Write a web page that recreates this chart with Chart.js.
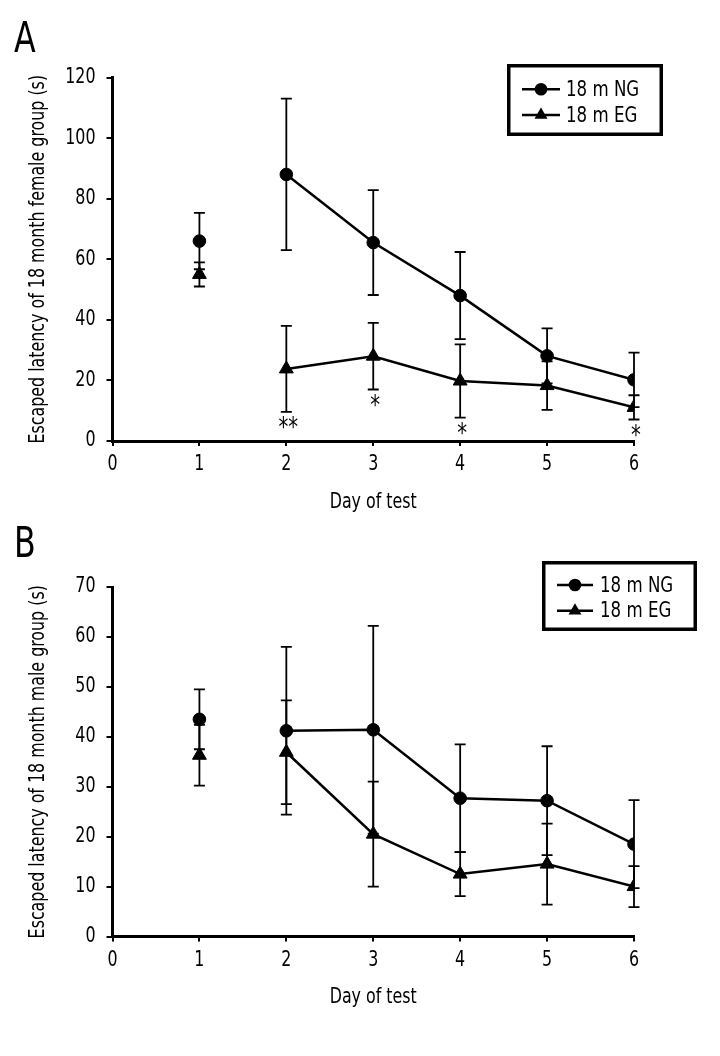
<!DOCTYPE html>
<html><head><meta charset="utf-8">
<script src="https://cdn.jsdelivr.net/npm/chart.js@4.4.0/dist/chart.umd.min.js"></script>
<style>
html,body{margin:0;padding:0;background:#fff;}
body{width:720px;height:1056px;position:relative;overflow:hidden;font-family:"Liberation Sans Narrow","DejaVu Sans Condensed",sans-serif;}
canvas{position:absolute;left:0;}
.lbl{position:absolute;font-size:43px;line-height:43px;color:#000;transform:scaleX(0.82);transform-origin:0 0;}
</style></head><body>
<canvas id="cA" width="720" height="520" style="top:0"></canvas>
<canvas id="cB" width="720" height="536" style="top:520px"></canvas>
<div class="lbl" style="left:14px;top:16px">A</div>
<div class="lbl" style="left:14px;top:521px">B</div>
<script>
// ---- data ----
const days = [1, 2, 3, 4, 5, 6];
const seriesNames = ['18 m NG', '18 m EG'];
const xTitle = 'Day of test';

const titleA = 'Escaped latency of 18 month female group (s)';
const ngMeanA = [66, 88, 65.5, 48, 28.1, 20.2];
const ngErrA  = [9.3, 25, 17.3, 14.4, 9.1, 9];
const egMeanA = [55, 23.8, 28, 19.8, 18.3, 11.1];
const egErrA  = [4, 14.2, 11, 12.1, 8, 4];
const sigA    = ['', '**', '*', '*', '', '*'];

const titleB = 'Escaped latency of 18 month male group (s)';
const ngMeanB = [43.5, 41.2, 41.4, 27.7, 27.2, 18.5];
const ngErrB  = [6, 16.8, 20.8, 10.8, 10.9, 8.8];
const egMeanB = [36.3, 36.9, 20.5, 12.5, 14.5, 10];
const egErrB  = [6.1, 10.4, 10.5, 4.4, 8.1, 4.1];
const sigB    = ['', '', '', '', '', ''];

// Emulate a condensed typeface: narrow every canvas text run horizontally.
const SX = 0.84;
(function () {
  const P = CanvasRenderingContext2D.prototype;
  const fill = P.fillText, meas = P.measureText;
  P.fillText = function (t, x, y, maxW) {
    this.save();
    this.translate(x, y);
    this.scale(SX, 1);
    if (maxW !== undefined) fill.call(this, t, 0, 0, maxW / SX); else fill.call(this, t, 0, 0);
    this.restore();
  };
  P.measureText = function (t) {
    const m = meas.call(this, t);
    return {
      width: m.width * SX,
      actualBoundingBoxAscent: m.actualBoundingBoxAscent,
      actualBoundingBoxDescent: m.actualBoundingBoxDescent,
      actualBoundingBoxLeft: m.actualBoundingBoxLeft * SX,
      actualBoundingBoxRight: m.actualBoundingBoxRight * SX,
      fontBoundingBoxAscent: m.fontBoundingBoxAscent,
      fontBoundingBoxDescent: m.fontBoundingBoxDescent
    };
  };
})();

const FONT = '"Liberation Sans Narrow","DejaVu Sans Condensed",sans-serif';
Chart.defaults.font.family = FONT;
Chart.defaults.color = '#000';

const errorBars = {
  id: 'errorBars',
  beforeDatasetsDraw(chart) {
    const o = chart.options.plugins.errorBars;
    const {ctx, scales: {x, y}} = chart;
    ctx.save();
    ctx.strokeStyle = '#000';
    ctx.lineWidth = 1.8;
    chart.data.datasets.forEach((ds, i) => {
      ds.data.forEach((p, j) => {
        const e = o.errs[i][j];
        const px = x.getPixelForValue(p.x);
        const top = y.getPixelForValue(p.y + e);
        const bot = y.getPixelForValue(p.y - e);
        ctx.beginPath();
        ctx.moveTo(px, top); ctx.lineTo(px, bot);
        ctx.moveTo(px - 5.5, top); ctx.lineTo(px + 5.5, top);
        ctx.moveTo(px - 5.5, bot); ctx.lineTo(px + 5.5, bot);
        ctx.stroke();
      });
    });
    ctx.restore();
  }
};

const sigMarks = {
  id: 'sigMarks',
  afterDatasetsDraw(chart) {
    const o = chart.options.plugins.sigMarks;
    const {ctx, scales: {x, y}} = chart;
    const ds = chart.data.datasets[1];
    ctx.save();
    ctx.fillStyle = '#000';
    ctx.font = '26px ' + FONT;
    ctx.textAlign = 'center';
    ctx.textBaseline = 'alphabetic';
    ds.data.forEach((p, j) => {
      const s = o.labels[j];
      if (!s) return;
      const px = x.getPixelForValue(p.x);
      const cy = y.getPixelForValue(p.y - o.errs[j]) + 11;
      const m = ctx.measureText(s);
      ctx.fillText(s, px + 2, cy + (m.actualBoundingBoxAscent - m.actualBoundingBoxDescent) / 2);
    });
    ctx.restore();
  }
};

const boxLegend = {
  id: 'boxLegend',
  afterDraw(chart) {
    const o = chart.options.plugins.boxLegend;
    const ctx = chart.ctx;
    const [l, t, r, b] = o.box;
    ctx.save();
    ctx.strokeStyle = '#000';
    ctx.fillStyle = '#000';
    ctx.lineWidth = 3.5;
    ctx.strokeRect(l + 1.75, t + 1.75, r - l - 3.5, b - t - 3.5);
    chart.data.datasets.forEach((ds, i) => {
      const cy = o.rows[i];
      ctx.lineWidth = 2.5;
      ctx.beginPath();
      ctx.moveTo(o.lineX[0], cy); ctx.lineTo(o.lineX[1], cy);
      ctx.stroke();
      const mx = (o.lineX[0] + o.lineX[1]) / 2;
      ctx.beginPath();
      if (ds.pointStyle === 'circle') {
        ctx.arc(mx, cy, 6.3, 0, Math.PI * 2);
      } else {
        const rr = 7.5;
        ctx.moveTo(mx, cy - rr);
        ctx.lineTo(mx + rr * 0.866, cy + rr * 0.5);
        ctx.lineTo(mx - rr * 0.866, cy + rr * 0.5);
        ctx.closePath();
      }
      ctx.fill();
      ctx.font = '22px ' + FONT;
      ctx.textBaseline = 'middle';
      ctx.textAlign = 'left';
      ctx.fillText(ds.label, o.textX, cy + 1);
    });
    ctx.restore();
  }
};

function makeChart(id, cfg) {
  const pts = (m) => days.map((d, i) => ({x: d, y: m[i]}));
  const seg = {borderColor: c => c.p0DataIndex === 0 ? 'rgba(0,0,0,0)' : '#000'};
  return new Chart(document.getElementById(id), {
    type: 'scatter',
    data: {
      datasets: [
        {label: seriesNames[0], data: pts(cfg.ng), showLine: true, borderColor: '#000', borderWidth: 2.5,
         pointStyle: 'circle', pointRadius: 6.3, pointBackgroundColor: '#000', pointBorderColor: '#000', pointBorderWidth: 1, segment: seg},
        {label: seriesNames[1], data: pts(cfg.eg), showLine: true, borderColor: '#000', borderWidth: 2.5,
         pointStyle: 'triangle', pointRadius: 8, pointBackgroundColor: '#000', pointBorderColor: '#000', pointBorderWidth: 1, segment: seg}
      ]
    },
    options: {
      responsive: false,
      animation: false,
      layout: {padding: cfg.padding},
      plugins: {
        legend: {display: false},
        tooltip: {enabled: false},
        errorBars: {errs: [cfg.ngErr, cfg.egErr]},
        sigMarks: {labels: cfg.sig, errs: cfg.egErr},
        boxLegend: cfg.legend
      },
      scales: {
        x: {
          type: 'linear', min: 0, max: 6,
          afterFit: s => { s.height = 79; },
          ticks: {stepSize: 1, padding: 6, font: {size: 21}, color: '#000'},
          grid: {drawOnChartArea: false, drawTicks: true, tickLength: 5, color: '#000', lineWidth: 2},
          border: {display: true, color: '#000', width: 3},
          title: {display: true, text: xTitle, font: {size: 21}, color: '#000', padding: {top: 0, bottom: 5}}
        },
        y: {
          min: 0, max: cfg.ymax,
          afterFit: s => { s.width = 112.5; },
          ticks: {stepSize: cfg.step, padding: 11, font: {size: 21}, color: '#000'},
          grid: {drawOnChartArea: false, drawTicks: true, tickLength: 6, color: '#000', lineWidth: 2},
          border: {display: true, color: '#000', width: 3},
          title: {display: true, text: cfg.title, font: {size: 21}, color: '#000', padding: {top: 25.5, bottom: 0}}
        }
      }
    },
    plugins: [errorBars, sigMarks, boxLegend]
  });
}

makeChart('cA', {
  ng: ngMeanA, eg: egMeanA, ngErr: ngErrA, egErr: egErrA, sig: sigA,
  ymax: 120, step: 20, title: titleA,
  padding: {top: 77.5, right: 86, bottom: 0, left: 0},
  legend: {box: [507, 64, 663, 136], lineX: [522, 560], textX: 566, rows: [89.3, 115]}
});
makeChart('cB', {
  ng: ngMeanB, eg: egMeanB, ngErr: ngErrB, egErr: egErrB, sig: sigB,
  ymax: 70, step: 10, title: titleB,
  padding: {top: 67, right: 86, bottom: 40.5, left: 0},
  legend: {box: [542, 41, 697, 111], lineX: [557, 593], textX: 600, rows: [65, 90.7]}
});
</script>
</body></html>
